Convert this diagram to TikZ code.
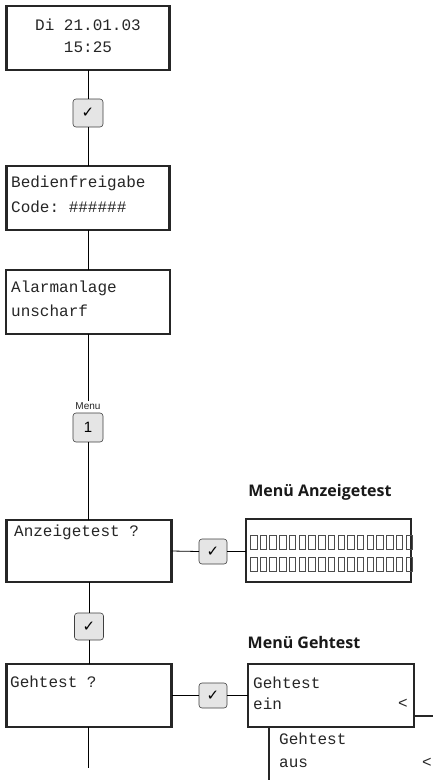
\documentclass[tikz,border=0pt]{standalone}
\usepackage{fontspec}
\setmonofont{Liberation Mono}
\setsansfont{Liberation Sans}
\newfontfamily\dvsans{DejaVu Sans}
\newfontfamily\headfont{Open Sans}
\begin{document}
\begin{tikzpicture}[x=1pt,y=-1pt,
  lcd/.style={draw=black!85, line width=2.2pt, inner sep=0pt, outer sep=0pt},
  keybox/.style={draw=black!75, line width=0.6pt, rounded corners=3pt, fill=black!10, minimum width=28pt, minimum height=26pt, inner sep=0pt, outer sep=0pt},
  conn/.style={draw=black, line width=0.8pt},
  mono/.style={font=\ttfamily\fontsize{16}{16}\selectfont, inner sep=0pt, anchor=west, text=black!85},
  tick/.style={font=\dvsans\fontsize{15}{15}\selectfont},
  cell/.style={draw=black!70, line width=0.9pt},
  head/.style={font=\headfont\bfseries\fontsize{16}{16}\selectfont, inner sep=0pt, text=black!90}]
\useasboundingbox (0,0) rectangle (433,780);
\clip (0,0) rectangle (433,780);
\fill[white] (0,0) rectangle (433,780);

% left column boxes
\node[lcd, minimum width=163pt, minimum height=64pt] (b1) at (88,38) {};
\node[lcd, minimum width=163pt, minimum height=64pt] (b2) at (88,198) {};
\node[lcd, minimum width=164pt, minimum height=64pt] (b3) at (88,302) {};
\node[lcd, minimum width=165pt, minimum height=62pt] (b4) at (89,551) {};
\node[lcd, minimum width=165pt, minimum height=63pt] (b5) at (89,695.5) {};

% texts
\node[mono, anchor=center] (t1a) at (88,25) {Di 21.01.03};
\node[mono, anchor=center] (t1b) at (88,47) {15:25};
\node[mono] (t2a) at (11,183) {Bedienfreigabe};
\node[mono] (t2b) at (11,207) {Code: \#\#\#\#\#\#};
\node[mono] (t3a) at (11,288) {Alarmanlage};
\node[mono] (t3b) at (11,311) {unscharf};
\node[mono] (t4) at (14,532) {Anzeigetest ?};
\node[mono] (t5) at (10,682) {Gehtest ?};

% keys
\node[keybox, tick, minimum width=30pt, minimum height=28pt] (k1) at (88,113) {✓};
\node[font=\sffamily\fontsize{10}{10}\selectfont, inner sep=1pt, text=black!85] (menu) at (88,406) {Menu};
\node[keybox, font=\sffamily\fontsize{15}{15}\selectfont, minimum width=30pt, minimum height=29pt] (k2) at (88,427.5) {1};
\node[keybox, tick, minimum width=29pt, minimum height=27pt] (k3) at (89,626.5) {✓};
\node[keybox, tick, minimum width=28pt, minimum height=25pt] (k4) at (213,551.5) {✓};
\node[keybox, tick, minimum width=28pt, minimum height=25pt] (k5) at (213,695.5) {✓};

% right side
\node[head] (h1) at (320,492) {Menü Anzeigetest};
\node[head] (h2) at (304,642) {Menü Gehtest};

\node[lcd, minimum width=165pt, minimum height=63pt] (d1) at (328.5,550.5) {};
\foreach \r in {535,557}{
  \foreach \i in {0,...,16}{
    \draw[cell] ({250.5+9.72*\i},\r) rectangle ++(6.5,14);
  }
}

% back box (Gehtest aus)
\node[lcd, fill=white, minimum width=200pt, minimum height=90pt, anchor=north west] (g2) at (269,716) {};
\node[mono] (g2a) at (279,739) {Gehtest};
\node[mono] (g2b) at (279,763) {aus};
\node[mono, anchor=center] (g2c) at (427,763) {<};

% front box (Gehtest ein)
\node[lcd, fill=white, minimum width=166pt, minimum height=63pt] (g1) at (331,695.5) {};
\node[mono] (g1a) at (253,683) {Gehtest};
\node[mono] (g1b) at (253,704) {ein};
\node[mono, anchor=center] (g1c) at (403,704) {<};

% connectors
\coordinate (end) at (88,768);
\draw[conn] (b1.south) -- (k1.north);
\draw[conn] (k1.south) -- (b2.north);
\draw[conn] (b2.south) -- (b3.north);
\draw[conn] (b3.south) -- (menu.north);
\draw[conn] (k2.south) -- (b4.north -| k2.south);
\draw[conn] (b4.south -| k3.north) -- (k3.north);
\draw[conn] (k3.south) -- (b5.north -| k3.south);
\draw[conn] (b5.south -| end) -- (end);
\draw[conn] (b4.east) -- (k4.west);
\draw[conn] (k4.east) -- (d1.west |- k4.east);
\draw[conn] (b5.east) -- (k5.west);
\draw[conn] (k5.east) -- (g1.west |- k5.east);
\end{tikzpicture}
\end{document}
